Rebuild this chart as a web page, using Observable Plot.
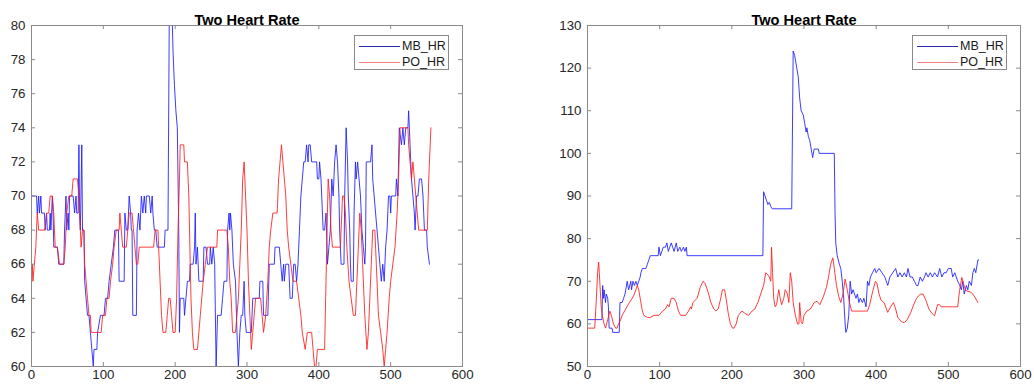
<!DOCTYPE html>
<html>
<head>
<meta charset="utf-8">
<script src="https://cdn.jsdelivr.net/npm/d3@7"></script>
<script src="https://cdn.jsdelivr.net/npm/@observablehq/plot@0.6"></script>
<style>
  body { margin: 0; background: #fff; }
  #wrap { position: relative; width: 1034px; height: 390px; overflow: hidden; font-family: "Liberation Sans", Arial, sans-serif; }
  .panel { position: absolute; top: 0; }
  .legend { position: absolute; top: 35px; height: 35px; border: 1px solid #8a8a8a; background: #fff; box-sizing: border-box; }
  .legend .sw { position: absolute; height: 1px; }
  .legend .lb { position: absolute; font-size: 12.5px; color: #1a1a1a; line-height: 14px; white-space: nowrap; }
</style>
</head>
<body>
<div id="wrap"></div>
<script>
// ---------- data ----------
const chartTitle = "Two Heart Rate";
const seriesNames = ["MB_HR", "PO_HR"];
const xTicks = [0, 100, 200, 300, 400, 500, 600];
const yTicksLeft = [60, 62, 64, 66, 68, 70, 72, 74, 76, 78, 80];
const yTicksRight = [50, 60, 70, 80, 90, 100, 110, 120, 130];

// Left panel, MB_HR
const mbLeftX = [0,7,8,10,11,13,14,18,19,21,22,25,26,27,28,29,30,31,36,38,45,46,48,49,51,52,53,55,58,60,62,63,65,66,67,68,70,71,73,74,76,78,80,82,84,86,87,91,92,96,101,103,106,108,111,114,116,121,122,129,130,132,134,136,138,139,140,141,146,147,149,151,153,155,157,159,160,164,166,168,169,171,173,175,185,186,190,192,195,197,199,201,203,204,205,206,207,212,213,215,217,220,221,225,227,228,229,231,233,239,240,243,245,248,249,251,253,255,257,259,264,266,268,272,273,275,276,277,279,281,284,286,288,290,292,294,296,297,299,306,308,317,318,322,323,329,331,338,339,345,347,349,351,352,354,358,360,363,365,367,369,371,373,375,377,379,381,383,385,386,388,390,397,398,400,401,403,404,406,408,410,412,414,416,418,420,422,424,426,428,429,431,435,436,438,440,441,443,444,445,448,449,451,452,454,456,458,460,462,464,465,466,472,474,475,477,479,481,483,485,487,489,491,493,495,497,499,500,501,507,508,510,512,515,517,519,521,524,525,527,529,531,533,534,536,538,540,543,545,546,547,550,551,554];
const mbLeftY = [70,70,69,70,69,70,69,69,68,69,68,68,69,68,69,70,69,67,67,66,66,68,70,68,69,68,70,70,70,69,70,69,69,73,69,68,73,68,68,65,64,63,63,62,61,60,61,61,62,63,63,64,64,65,66,67,68,68,65,65,69,68,68,70,69,68,68,63,63,68,69,68,70,69,70,69,70,70,69,70,69,68,68,67,67,68,68,82,82,78.5,76.5,75,74,71,68,62,64,64,63,64,65,65,66,66,67,69,66,67,65,65,67,67,66,66,67,66,67,66,60,63,63,64,65,65,68,69,68,69,68,66,65,62,60,62,63,63,65,63,62,62,64,64,65,65,63,63,66,66,67,67,66,65,66,65,66,66,64,64,66,66,65,66,68,70,71,72,72,73,72,73,73,72,72,71,71,72,71,70,68,68,69,66,67,68,71,70,72,73,72,70,68,66,66,70,74,72,70,68,66,65,65,69,72,71,72,71,70,68,67,66,67,72,72,73,71,70,69,68,67,66,65,66,65,67,68,70,70,69,70,70,71,70,74,73,74,73,74,74,75,73,71,70,69,68,70,70,71,71,70,69,68,68,67,66];

// Left panel, PO_HR
const poLeftX = [0,1,2,4,6,8,10,19,21,24,26,29,31,33,36,39,45,47,49,52,56,58,64,66,67,69,71,73,74,76,78,80,82,83,97,99,103,105,108,110,113,115,118,122,123,125,127,132,134,136,140,142,144,146,148,150,170,172,176,177,179,181,183,187,189,191,193,195,197,200,202,204,206,207,212,213,217,219,220,222,224,226,231,233,235,237,239,242,245,258,259,272,274,276,278,280,284,286,288,290,292,294,296,298,300,302,304,306,308,310,312,319,321,323,326,329,331,333,336,342,344,346,348,350,352,354,356,358,361,364,369,372,375,377,381,384,390,392,394,396,398,408,410,412,413,415,417,419,430,431,433,435,437,439,442,445,448,451,453,455,457,459,461,464,467,469,471,473,475,478,480,483,486,489,491,493,495,498,500,503,506,509,511,513,524,525,527,529,531,533,535,537,539,551,553,556];
const poLeftY = [65,66,65,66,67,69,68,68,69,69,70,70,69,67,67,66,66,67,69,70,70,71,71,70,69,67,68,68,66,65,64,63,63,62,62,63,63,64,64,65,66,67,68,68,69,68,67,67,68,69,69,68,67,66,66,67,67,68,68,67,65,63,62,62,63,64,64,63,62,62,64,68,71,73,73,72,72,70,68,64,62,61,61,62,63,64,65,66,67,67,68,68,67,65,64,62,62,63,64,66,68,71,72,70,68,65,63,61,62,63,64,64,63,62,63,65,67,68,69,69,71,72,73,72,71,70,68,67,66,65,65,64,63,62,61,62,62,61,60,60,61,61,65,69,71,70,68,67,67,68,70,70,69,67,65,64,63,63,65,67,69,68,66,63,61,62,64,66,68,68,66,63,62,61,60,61,62,64,65,66,67,69,71,74,74,73,72,71,72,71,70,69,68,68,71,74];

// Right panel, MB_HR
const mbRightX = [0,20,21,22,23,25,26,28,29,30,34,35,44,45,48,50,52,55,57,60,61,63,65,67,69,71,73,74,76,81,83,85,87,98,99,101,103,105,108,110,112,114,116,118,120,123,125,128,130,133,135,137,138,243,244,246,248,250,252,254,256,283,285,287,289,292,294,296,299,301,303,304,306,308,310,312,314,320,321,342,343,344,346,349,351,353,355,357,358,360,362,364,366,368,370,372,374,376,378,381,383,386,388,390,392,395,398,400,404,408,412,414,416,419,423,427,430,433,436,439,442,444,447,450,453,456,458,461,464,467,469,472,475,478,481,485,488,491,494,497,500,504,506,509,513,516,518,520,522,525,527,529,532,534,536,538,541,542];
const mbRightY = [61,61,69,66,68,65,67,66,64,59,59,58,58,65,65,66,67,70,68,70,68,70,69,70,69,70,71,72,73,73,74,75,76,76,78,76,77,78,78,79,77,78,79,78,77,79,77,78,77,78,77,78,76,76,91,90,89,88,88.5,87.5,87,87,124,123,121,118,113,110,109,107,105,106,104,103,101,99,101,101,100,100,86,79,76,74,73,70,66,60,58,59,62,70,67,68,67,66,67,65,66,65,66,64,70,69,71,72,73,72,73,72,71,70,69,71,72,73,71,72,71,72,71,73,71,71,70,69,69,71,70,71,72,71,72,71,72,71,73,71,72,72,73,73,71,72,70,69,68,70,67,69,68,70,69,72,73,72,75,75];

// Right panel, PO_HR
const poRightX = [0,10,12,14,15.5,17,19,20.5,23,25,28,31,33,36,39,41,43,46,48,53,58,62,65,69,71,73,76,78,83,87,92,99,104,108,111,113,116,120,123,126,129,136,140,143,144,146,152,156,160,163,167,171,175,178,181,184,187,190,192,195,198,201,203,206,209,214,218,223,228,232,236,240,244,247,250,252,254,255,256.5,258,260,262,265,267,269,272,274,277,279,281,283,285,288,291,293,294,296,298,300,304,309,314,318,322,327,331,334,337,340,342,345,348,351,354,357,360,363,366,368,388,391,395,399,401,404,407,411,416,420,424,427,430,435,439,443,448,452,456,461,465,469,473,477,481,485,488,490,513,515.5,518.7,521,524,531.7,536,541];
const poRightY = [59,59,65,72,74.5,70,64,62,60,59,61,63,62,60,59,59,60,61,62,63.5,65,66,67,69,68,66,63,62,61.5,61.5,62,62,63,63.5,64.5,64,66,66,65,63,62,62,63,64,63.5,65,66,68.5,70,69.5,67.5,65,63.5,63,63.5,65.5,68,68,66,62.5,60,59,59,60,62,63,62.5,62,63,63.5,65,67,69,72,71.5,71,70,78,72,66,64,64.5,68,66,64.5,66,68,67,65,72,70,65,62,60,60,65,60.5,60,62,63,63.5,65,65.3,64.5,66.5,68.5,71,74,75.5,73,69,66.5,65,67,70.5,68,65,63,63,63,64.5,67.5,70,69.5,67,65.5,65,62.7,64,65,63.5,61.5,60.5,60.3,61,62.7,64.5,66,67,67,65.5,63.5,62.5,61.9,64.5,64.5,64,64,67.8,70.9,69.5,67.8,67.4,66.5,65];

// ---------- drawing ----------
const FONT = "'Liberation Sans', Arial, Helvetica, sans-serif";
const AX = "#262626";
const MB_COLOR = "#1a1aff";
const PO_COLOR = "#ff1a1a";
const FRAME = "#8a8a8a";

function toRows(xs, ys) { return xs.map((x, i) => ({x, y: ys[i]})); }

function panel({mbX, mbY, poX, poY, yTicks, marginLeft, marginRight}) {
  const W = 517, H = 390, mt = 25, mb = 24;
  const innerH = H - mt - mb;
  const innerW = W - marginLeft - marginRight;
  const tk = 4;
  return Plot.plot({
    width: W, height: H,
    marginLeft, marginRight, marginTop: mt, marginBottom: mb,
    style: {fontFamily: FONT, fontSize: "13.3px", color: AX, background: "#fff", overflow: "visible"},
    x: {domain: [0, 600]},
    y: {domain: [yTicks[0], yTicks[yTicks.length - 1]]},
    marks: [
      Plot.line(toRows(mbX, mbY), {x: "x", y: "y", stroke: MB_COLOR, strokeWidth: 0.85, clip: true}),
      Plot.line(toRows(poX, poY), {x: "x", y: "y", stroke: PO_COLOR, strokeWidth: 0.85, clip: true}),
      Plot.frame({stroke: FRAME, strokeWidth: 1}),
      Plot.tickX(xTicks, {x: d => d, insetTop: innerH - tk, stroke: FRAME}),
      Plot.tickX(xTicks, {x: d => d, insetBottom: innerH - tk, stroke: FRAME}),
      Plot.tickY(yTicks, {y: d => d, insetRight: innerW - tk, stroke: FRAME}),
      Plot.tickY(yTicks, {y: d => d, insetLeft: innerW - tk, stroke: FRAME}),
      Plot.axisX(xTicks, {tickSize: 0, tickPadding: 3, label: null, fill: AX}),
      Plot.axisY(yTicks, {tickSize: 0, tickPadding: 6, label: null, fill: AX}),
      Plot.text([chartTitle], {frameAnchor: "top", dy: -11, fontWeight: "bold", fontSize: 14.6, fill: "#000"})
    ]
  });
}

function legend(left, width) {
  const d = document.createElement("div");
  d.className = "legend";
  d.style.left = left + "px";
  d.style.width = width + "px";
  const colors = ["#2b2bb0", "#f08080"];
  const rowsY = [11, 27];
  seriesNames.forEach((name, i) => {
    const sw = document.createElement("div");
    sw.className = "sw";
    sw.style.left = "4px";
    sw.style.width = "41px";
    sw.style.top = (rowsY[i] - 1) + "px";
    sw.style.background = colors[i];
    d.appendChild(sw);
    const lb = document.createElement("div");
    lb.className = "lb";
    lb.style.left = "47px";
    lb.style.top = (rowsY[i] - 8) + "px";
    lb.textContent = name;
    d.appendChild(lb);
  });
  return d;
}

const wrap = document.getElementById("wrap");

const left = panel({mbX: mbLeftX, mbY: mbLeftY, poX: poLeftX, poY: poLeftY, yTicks: yTicksLeft, marginLeft: 31, marginRight: 55});
left.classList.add("panel");
left.style.left = "0px";
wrap.appendChild(left);

const right = panel({mbX: mbRightX, mbY: mbRightY, poX: poRightX, poY: poRightY, yTicks: yTicksRight, marginLeft: 70, marginRight: 14});
right.classList.add("panel");
right.style.left = "517px";
wrap.appendChild(right);

wrap.appendChild(legend(354, 95));
wrap.appendChild(legend(912, 95));
</script>
</body>
</html>
